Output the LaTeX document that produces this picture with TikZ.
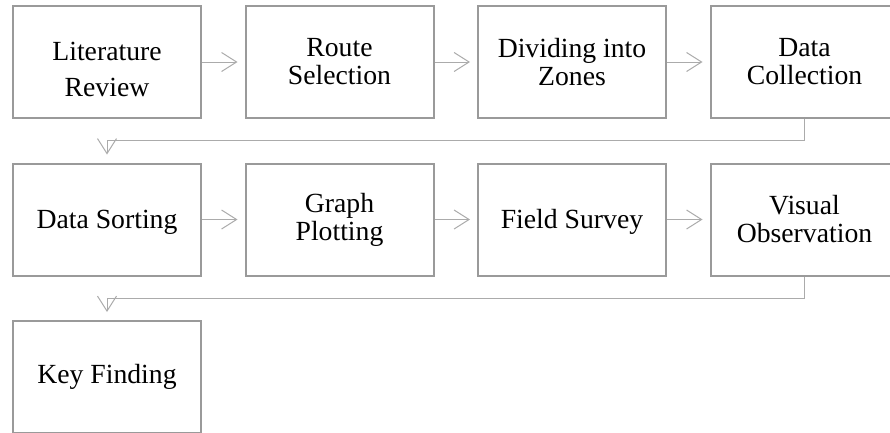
\documentclass[tikz,border=0pt]{standalone}
\usepackage{fontspec}
\setmainfont{Liberation Serif}
\usetikzlibrary{arrows.meta,calc}
\definecolor{boxgray}{HTML}{9A9A9A}
\definecolor{linegray}{HTML}{ABABAB}
\tikzset{
  stepbox/.style={draw=boxgray, line width=2pt, fill=white, minimum width=188pt, minimum height=112pt,
    inner sep=0pt, align=center, font=\fontsize{27.7}{28}\selectfont, text=black},
  conn/.style={draw=linegray, line width=1pt,
    -{Straight Barb[length=15pt,width=19pt,line width=1pt]}, shorten >=7pt},
}
\begin{document}
\begin{tikzpicture}[x=1pt,y=-1pt]
\useasboundingbox (0,0) rectangle (890,432);
\clip (0,0) rectangle (890,432);
% row 1
\node[stepbox] (lr) at (107,62) {\rule{0pt}{34pt}Literature\\[8pt]Review};
\node[stepbox] (rs) at (339.5,62) {Route\\Selection};
\node[stepbox] (dz) at (572,62) {Dividing into\\Zones};
\node[stepbox] (dc) at (804.5,62) {Data\\Collection};
% row 2
\node[stepbox] (ds) at (107,219.5) {\rule{0pt}{24pt}Data Sorting};
\node[stepbox] (gp) at (339.5,219.5) {Graph\\Plotting};
\node[stepbox] (fs) at (572,219.5) {\rule{0pt}{23pt}Field Survey};
\node[stepbox] (vo) at (804.5,219.5) {Visual\\Observation};
% row 3
\node[stepbox] (kf) at (107,377) {Key Finding};
% connectors
\draw[conn] (lr.east) -- (rs.west);
\draw[conn] (rs.east) -- (dz.west);
\draw[conn] (dz.east) -- (dc.west);
\draw[conn, shorten >=8pt] (dc.south) |- ($(ds.north)+(0,-22)$) -- (ds.north);
\draw[conn] (ds.east) -- (gp.west);
\draw[conn] (gp.east) -- (fs.west);
\draw[conn] (fs.east) -- (vo.west);
\draw[conn, shorten >=8pt] (vo.south) |- ($(kf.north)+(0,-22)$) -- (kf.north);
\end{tikzpicture}
\end{document}
